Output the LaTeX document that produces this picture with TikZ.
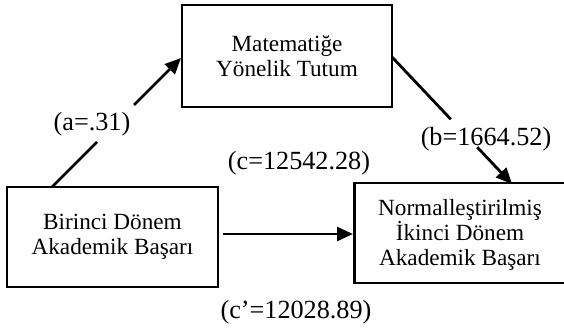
\documentclass[tikz,border=0pt]{standalone}
\usepackage{fontspec}
\setmainfont{Liberation Serif}
\usetikzlibrary{arrows.meta,calc}
\begin{document}
\begin{tikzpicture}[x=0.5pt,y=-0.5pt,
  box/.style={draw,line width=1.4pt,inner sep=0pt,align=center,
    font=\fontsize{11.6}{12.6}\selectfont},
  lab/.style={inner sep=0pt,font=\fontsize{13.1}{14}\selectfont},
  con/.style={line width=1.4pt},
  arr/.style={con,-{Triangle[length=8pt,width=7pt]}}]
\useasboundingbox (0,0) rectangle (564,333);
% boxes
\node[box,minimum width=105pt,minimum height=51pt] (T) at (287,56) {Matematiğe\\Yönelik Tutum};
\node[box,minimum width=105.5pt,minimum height=50pt] (L) at (112.5,237) {Birinci Dönem\\Akademik Başarı};
\node[box,minimum width=107pt,minimum height=50pt,anchor=west] (R) at (353,233) {};
\node[align=center,inner sep=0pt,font=\fontsize{11.6}{12.6}\selectfont] (Rt) at (460,235) {Normalleştirilmiş\\İkinci Dönem\\Akademik Başarı};
% connector end points
\coordinate (aS) at (52,187);
\coordinate (aE) at (181,58);
\coordinate (bS) at (392,57);
\coordinate (bE) at (512,184);
\coordinate (cS) at (223,234);
% path a
\draw[con] (aS) -- ($(aS)!0.349!(aE)$);
\draw[arr] ($(aS)!0.636!(aE)$) -- (aE);
% path b
\draw[con] (bS) -- ($(bS)!0.49!(bE)$);
\draw[arr] ($(bS)!0.71!(bE)$) -- (bE);
% path c
\draw[arr] (cS) -- (R.west |- cS);
% labels
\node[lab] (la) at (92,124) {(a=.31)};
\node[lab] (lb) at (486,139) {(b=1664.52)};
\node[lab] (lc) at (299,163) {(c=12542.28)};
\node[lab] (lcp) at (296,312) {(c’=12028.89)};
\end{tikzpicture}
\end{document}
